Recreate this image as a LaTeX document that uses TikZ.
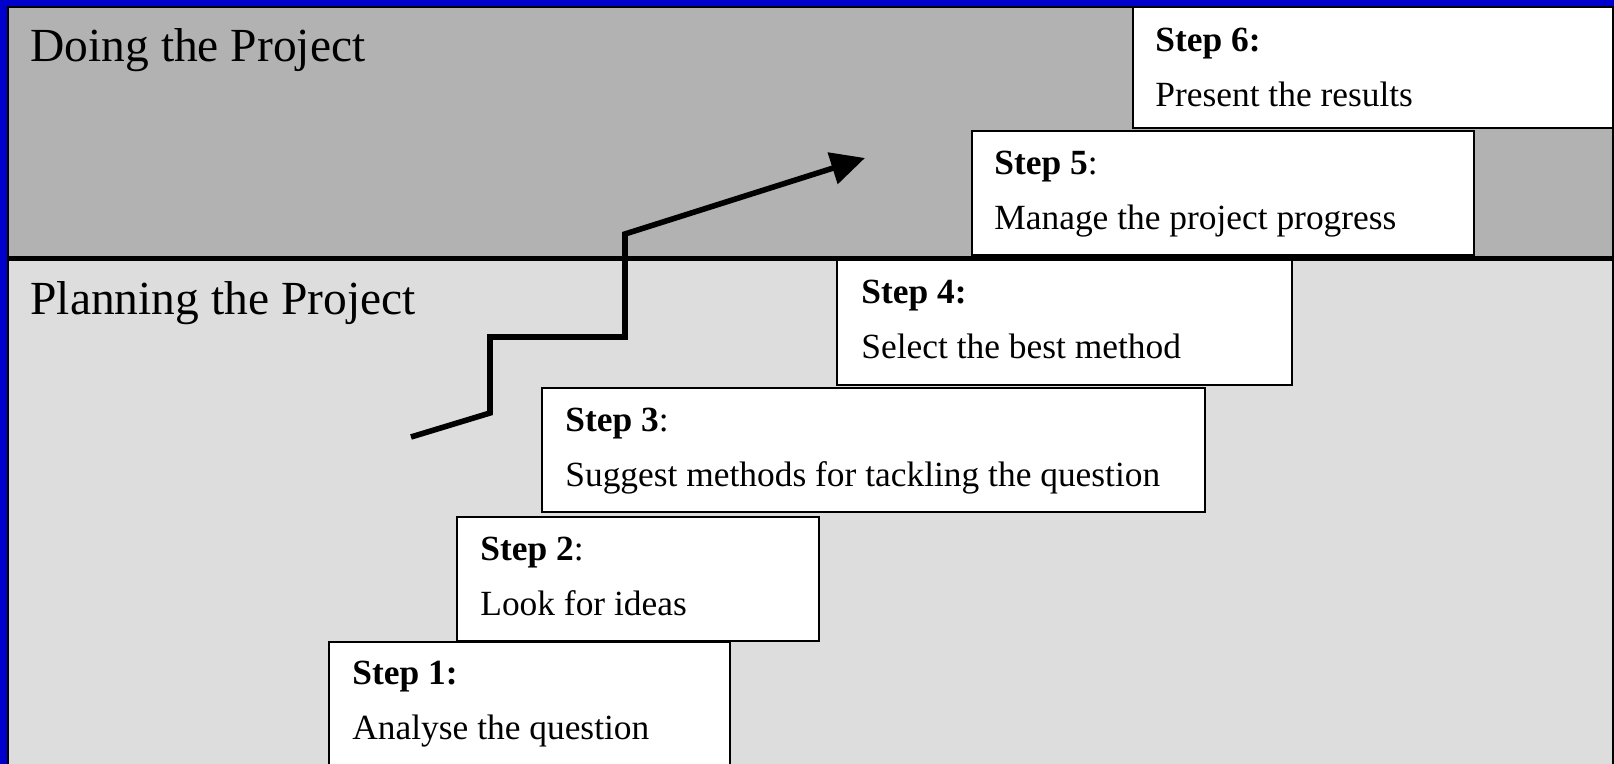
\documentclass[tikz,border=0pt]{standalone}
\usepackage{fontspec}
\setmainfont{Liberation Serif}
\usetikzlibrary{arrows.meta,calc,fit}
\definecolor{frameblue}{HTML}{0000CC}
\definecolor{doinggray}{HTML}{B2B2B2}
\definecolor{plangray}{HTML}{DDDDDD}
\begin{document}
\begin{tikzpicture}[x=0.5pt,y=-0.5pt,
  stepbox/.style={draw=black, line width=1pt, fill=white, inner sep=0pt, outer sep=0pt},
  steplabel/.style={anchor=base west, inner sep=0pt, font=\fontsize{17.7pt}{20pt}\selectfont},
  heading/.style={anchor=base west, inner sep=0pt, font=\fontsize{23.75pt}{28pt}\selectfont},
  frameline/.style={line width=1pt},
  divider/.style={line width=2.2pt},
  stairarrow/.style={line width=2.8pt, -{Triangle[length=17pt,width=16pt]}}]
\useasboundingbox (0,0) rectangle (1614,764);
\clip (0,0) rectangle (1614,764);
% background panels
\fill[frameblue] (0,0) rectangle (1614,764);
\fill[doinggray] (8,7) rectangle (1613,258);
\fill[plangray] (8,258) rectangle (1613,764);
\draw[frameline] (8,764) -- (8,7) -- (1613,7) -- (1613,764);

% headings
\node[heading] (doing) at (30,62) {Doing the Project};
\node[heading] (planning) at (30,315) {Planning the Project};

% step 6
\path (1133,7) coordinate (s6a) (1613,128) coordinate (s6b);
\node[stepbox, fit=(s6a)(s6b)] (s6) {};
\node[steplabel] (s6h) at ($(s6.north west)+(22,45)$) {\textbf{Step 6:}};
\node[steplabel] (s6d) at ($(s6.north west)+(22,100)$) {Present the results};

% step 5
\path (972,131) coordinate (s5a) (1474,255) coordinate (s5b);
\node[stepbox, fit=(s5a)(s5b)] (s5) {};
\node[steplabel] (s5h) at ($(s5.north west)+(22,44)$) {\textbf{Step 5}:};
\node[steplabel] (s5d) at ($(s5.north west)+(22,99)$) {Manage the project progress};

% divider between the two phases
\path (8,258.5) coordinate (dl) (1613,258.5) coordinate (dr);
\draw[divider] (dl) -- (dr);

% step 4
\path (837,260) coordinate (s4a) (1292,385) coordinate (s4b);
\node[stepbox, fit=(s4a)(s4b)] (s4) {};
\node[steplabel] (s4h) at ($(s4.north west)+(24,44)$) {\textbf{Step 4:}};
\node[steplabel] (s4d) at ($(s4.north west)+(24,99)$) {Select the best method};

% step 3
\path (542,388) coordinate (s3a) (1205,512) coordinate (s3b);
\node[stepbox, fit=(s3a)(s3b)] (s3) {};
\node[steplabel] (s3h) at ($(s3.north west)+(23,44)$) {\textbf{Step 3}:};
\node[steplabel] (s3d) at ($(s3.north west)+(23,99)$) {Suggest methods for tackling the question};

% step 2
\path (457,517) coordinate (s2a) (819,641) coordinate (s2b);
\node[stepbox, fit=(s2a)(s2b)] (s2) {};
\node[steplabel] (s2h) at ($(s2.north west)+(23,44)$) {\textbf{Step 2}:};
\node[steplabel] (s2d) at ($(s2.north west)+(23,99)$) {Look for ideas};

% step 1
\path (329,642) coordinate (s1a) (730,800) coordinate (s1b);
\node[stepbox, fit=(s1a)(s1b)] (s1) {};
\node[steplabel] (s1h) at ($(s1.north west)+(23,43)$) {\textbf{Step 1:}};
\node[steplabel] (s1d) at ($(s1.north west)+(23,98)$) {Analyse the question};

% stair arrow
\coordinate (a0) at (411,437);
\coordinate (a1) at (490,413);
\coordinate (a2) at (490,337);
\coordinate (a3) at (625,337);
\coordinate (a4) at (625,234);
\coordinate (a5) at (865,158);
\draw[stairarrow] (a0) -- (a1) -- (a2) -- (a3) -- (a4) -- (a5);
\end{tikzpicture}
\end{document}
